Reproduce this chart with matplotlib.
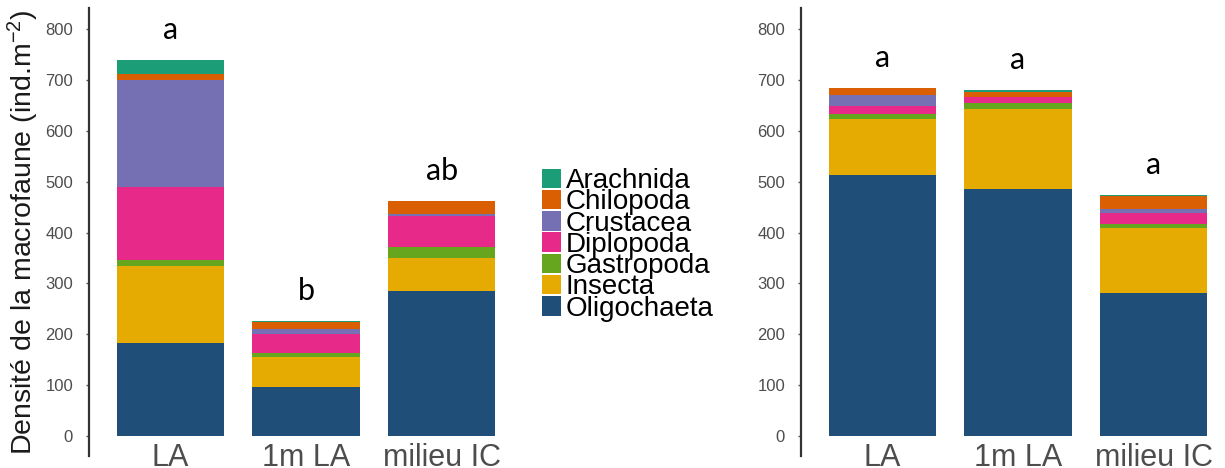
import matplotlib
matplotlib.use("Agg")
import matplotlib.pyplot as plt
import numpy as np

plt.rcParams["font.family"] = ["Liberation Sans", "DejaVu Sans"]
plt.rcParams["mathtext.fontset"] = "custom"
plt.rcParams["mathtext.rm"] = "Liberation Sans"
plt.rcParams["mathtext.it"] = "Liberation Sans:italic"
plt.rcParams["mathtext.bf"] = "Liberation Sans:bold"

# categories and taxa
sites = ["LA", "1m LA", "milieu IC"]
taxa = ["Oligochaeta", "Insecta", "Gastropoda", "Diplopoda", "Crustacea", "Chilopoda", "Arachnida"]
colors = ["#1F4E79", "#E6AB02", "#66A61E", "#E7298A", "#7570B3", "#D95F02", "#1B9E77"]

# left panel densities (ind.m-2), one list per taxon, in site order
left_oligochaeta = [182, 95, 284]
left_insecta = [153, 59, 66]
left_gastropoda = [10, 8, 22]
left_diplopoda = [145, 39, 60]
left_crustacea = [210, 9, 4]
left_chilopoda = [13, 14, 26]
left_arachnida = [26, 1, 0]
left_letters = ["a", "b", "ab"]

# right panel densities
right_oligochaeta = [513, 486, 280]
right_insecta = [111, 157, 128]
right_gastropoda = [9, 11, 9]
right_diplopoda = [16, 12, 22]
right_crustacea = [22, 0, 7]
right_chilopoda = [13, 11, 25]
right_arachnida = [1, 3, 2]
right_letters = ["a", "a", "a"]

left_data = [left_oligochaeta, left_insecta, left_gastropoda, left_diplopoda,
             left_crustacea, left_chilopoda, left_arachnida]
right_data = [right_oligochaeta, right_insecta, right_gastropoda, right_diplopoda,
              right_crustacea, right_chilopoda, right_arachnida]

W, H = 1225, 468
fig = plt.figure(figsize=(W / 100, H / 100), dpi=100)


def draw_panel(ax, data, letters):
    x = np.arange(len(sites))
    bottom = np.zeros(len(sites))
    for vals, name, col in zip(data, taxa, colors):
        ax.bar(x, vals, bottom=bottom, width=0.79, color=col, label=name, linewidth=0)
        bottom += np.array(vals)
    # significance letters above each stacked bar
    for xi, top, lab in zip(x, bottom, letters):
        ax.annotate(lab, (xi, top), xytext=(0, 30), textcoords="offset pixels",
                    ha="center", va="center", fontsize=22, family="Lato", color="black")
    ax.set_ylim(-40, 842)
    ax.set_yticks(np.arange(0, 801, 100))
    ax.set_xticks(x)
    ax.set_xticklabels(sites)
    for s in ["top", "right", "bottom"]:
        ax.spines[s].set_visible(False)
    ax.spines["left"].set_linewidth(1.6)
    ax.spines["left"].set_color("#333333")
    ax.tick_params(axis="y", length=2.5, width=1, color="#555555", labelsize=12,
                   labelcolor="#4D4D4D", pad=9)
    ax.tick_params(axis="x", length=0, labelsize=22, labelcolor="#4D4D4D", pad=-9.5)


ax1 = fig.add_axes([89 / W, 12 / H, 434 / W, 448 / H])
draw_panel(ax1, left_data, left_letters)
ax1.set_xlim(-0.6, 2.6)
ax1.set_ylabel("Densité de la macrofaune (ind.m$^{-2}$)", fontsize=20.5, color="#1A1A1A", labelpad=3)

ax2 = fig.add_axes([801 / W, 12 / H, 424 / W, 448 / H])
draw_panel(ax2, right_data, right_letters)
ax2.set_xlim(-0.6, -0.6 + 424 / 135.6)

handles, labels = ax1.get_legend_handles_labels()
fig.legend(handles[::-1], labels[::-1], loc="upper left", bbox_to_anchor=(542 / W, 1 - 168 / H),
           frameon=False, fontsize=20, handlelength=0.7, handleheight=0.7,
           handletextpad=0.15, labelspacing=-0.17, borderpad=0, borderaxespad=0)

fig.savefig("out.png", dpi=100)
